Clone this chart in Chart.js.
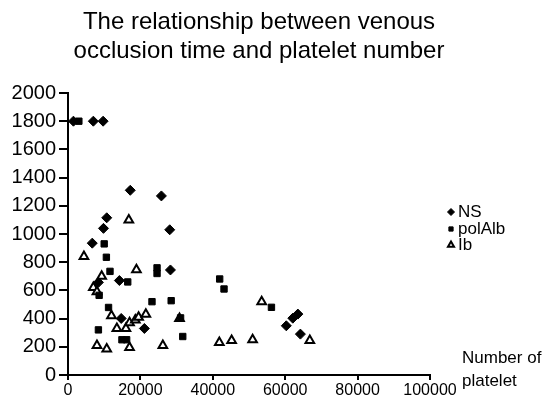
<!DOCTYPE html>
<html>
<head>
<meta charset="utf-8">
<script src="https://cdn.jsdelivr.net/npm/chart.js@4.4.1/dist/chart.umd.min.js"></script>
<style>
  html, body { margin: 0; padding: 0; background: #fff; }
  #wrap { width: 545px; height: 398px; }
</style>
</head>
<body>
<div id="wrap"><canvas id="myChart" width="545" height="398"></canvas></div>
<script>
// data: [platelets, occlusion time]
var titleLines = ["The relationship between venous", "occlusion time and platelet number"];
var seriesNames = ["NS", "polAlb", "Ib"];
var xTicks = [0, 20000, 40000, 60000, 80000, 100000];
var yTicks = [0, 200, 400, 600, 800, 1000, 1200, 1400, 1600, 1800, 2000];

var nsPoints = [
    [1500, 1800], [7000, 1800], [9700, 1800],
    [17200, 1310], [25800, 1270], [10700, 1115], [9800, 1040], [28100, 1030], [6700, 935],
    [28300, 745], [8400, 657], [14200, 670], [14700, 401], [21100, 330],
    [63500, 432], [62100, 403], [60300, 349], [64200, 290]
];
var polAlbPoints = [
    [3000, 1800], [10000, 930], [10600, 835], [11600, 735], [16500, 660],
    [24600, 760], [24600, 720], [8600, 565], [23200, 520], [28500, 527],
    [11200, 479], [8400, 320], [14900, 250], [16200, 250], [31100, 405],
    [31700, 273], [41900, 681], [43100, 610], [56200, 480]
];
var ibPoints = [
    [4400, 840], [16800, 1100], [18900, 747], [9300, 700], [7000, 620], [8000, 590],
    [12000, 420], [13500, 330], [16000, 330], [17000, 370], [18600, 390], [19500, 410],
    [21500, 430], [30800, 400], [8000, 210], [10700, 185], [17000, 195], [26200, 210],
    [41800, 230], [45200, 245], [51000, 250], [53500, 520], [66800, 245]
];

function toXY(list) {
    return list.map(function (p) { return { x: p[0], y: p[1] }; });
}

var fontName = "'Liberation Sans', Arial, sans-serif";

var markerStyles = [
    { pointStyle: "rectRot", radius: 5, backgroundColor: "#000", borderColor: "#000", borderWidth: 1 },
    { pointStyle: "rect", radius: 4.5, backgroundColor: "#000", borderColor: "#000", borderWidth: 1 },
    { pointStyle: "triangle", radius: 5, backgroundColor: "#fff", borderColor: "#000", borderWidth: 2 }
];

var allSeries = [nsPoints, polAlbPoints, ibPoints];
var datasets = [];
for (var i = 0; i < allSeries.length; i++) {
    var m = markerStyles[i];
    datasets.push({
        label: seriesNames[i],
        data: toXY(allSeries[i]),
        pointStyle: m.pointStyle,
        pointRadius: m.radius,
        pointBackgroundColor: m.backgroundColor,
        pointBorderColor: m.borderColor,
        pointBorderWidth: m.borderWidth,
        showLine: false
    });
}

// draws the title, the legend and the x axis caption
var extraText = {
    id: "extraText",
    afterDraw: function (chart) {
        var ctx = chart.ctx;
        ctx.save();
        ctx.fillStyle = "#000";

        ctx.font = "24px " + fontName;
        ctx.textAlign = "center";
        ctx.textBaseline = "alphabetic";
        ctx.fillText(titleLines[0], 259, 29);
        ctx.fillText(titleLines[1], 259, 58);

        // legend
        var legendY = [212, 229, 245];
        ctx.font = "17px " + fontName;
        ctx.textAlign = "left";
        ctx.textBaseline = "middle";
        for (var i = 0; i < seriesNames.length; i++) {
            var m = markerStyles[i];
            ctx.fillStyle = m.backgroundColor;
            ctx.strokeStyle = m.borderColor;
            ctx.lineWidth = m.borderWidth;
            Chart.helpers.drawPoint(ctx, {
                pointStyle: m.pointStyle,
                radius: m.radius - 1.5,
                borderWidth: m.borderWidth
            }, 451, legendY[i]);
            ctx.fillStyle = "#000";
            ctx.fillText(seriesNames[i], 458, legendY[i]);
        }

        ctx.font = "17px " + fontName;
        ctx.fillText("Number of", 462, 358);
        ctx.fillText("platelet", 462, 381);
        ctx.restore();
    }
};

var config = {
    type: "scatter",
    data: { datasets: datasets },
    options: {
        responsive: false,
        animation: false,
        events: [],
        layout: { padding: { top: 93, right: 115, bottom: 0, left: 0 } },
        plugins: {
            legend: { display: false },
            title: { display: false },
            tooltip: { enabled: false }
        },
        scales: {
            x: {
                type: "linear",
                min: 0,
                max: 100000,
                afterBuildTicks: function (scale) {
                    scale.ticks = xTicks.map(function (v) { return { value: v }; });
                },
                afterFit: function (scale) { scale.height = 23; },
                border: { color: "#000", width: 2 },
                grid: { drawOnChartArea: false, drawTicks: true, tickLength: 5, color: "#000", lineWidth: 2 },
                ticks: {
                    color: "#000",
                    padding: 1,
                    maxRotation: 0,
                    autoSkip: false,
                    font: { family: fontName, size: 16 },
                    callback: function (v) { return "" + v; }
                }
            },
            y: {
                type: "linear",
                min: 0,
                max: 2000,
                afterBuildTicks: function (scale) {
                    scale.ticks = yTicks.map(function (v) { return { value: v }; });
                },
                afterFit: function (scale) { scale.width = 68; },
                border: { color: "#000", width: 2 },
                grid: { drawOnChartArea: false, drawTicks: true, tickLength: 9, color: "#000", lineWidth: 2 },
                ticks: {
                    color: "#000",
                    padding: 3,
                    autoSkip: false,
                    font: { family: fontName, size: 20 },
                    callback: function (v) { return "" + v; }
                }
            }
        }
    },
    plugins: [extraText]
};

var myChart = new Chart(document.getElementById("myChart"), config);
</script>
</body>
</html>
